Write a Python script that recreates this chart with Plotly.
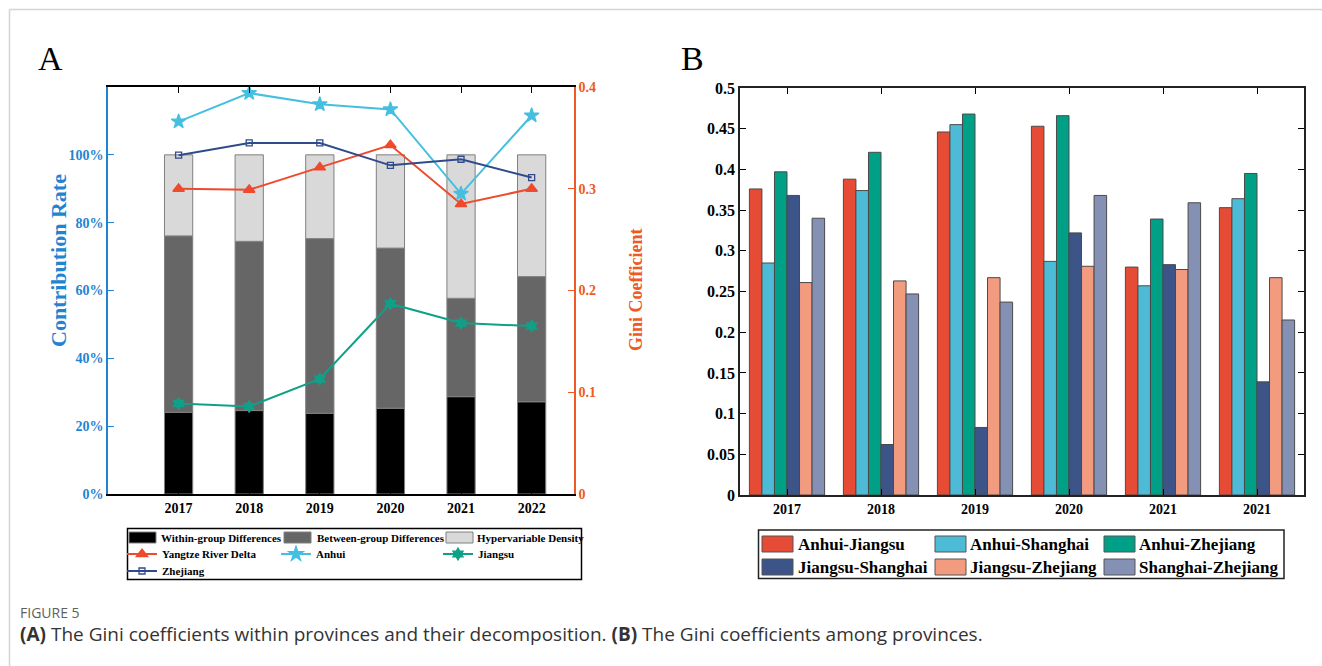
import plotly.graph_objects as go

# ---------------- data ----------------
years = ["2017", "2018", "2019", "2020", "2021", "2022"]

# contribution rates (%) of the Gini decomposition
within_group = [24.1, 24.6, 23.8, 25.3, 28.7, 27.2]
between_group = [52.0, 49.9, 51.5, 47.2, 29.0, 36.9]
hypervariable = [23.9, 25.5, 24.7, 27.5, 42.3, 35.9]
rate_ticks = [0, 20, 40, 60, 80, 100]
rate_labels = ["0%", "20%", "40%", "60%", "80%", "100%"]

# within-province Gini coefficients
gini_yrd = [0.300, 0.299, 0.321, 0.343, 0.285, 0.300]
gini_anhui = [0.366, 0.394, 0.383, 0.378, 0.295, 0.372]
gini_jiangsu = [0.089, 0.086, 0.113, 0.187, 0.168, 0.165]
gini_zhejiang = [0.333, 0.345, 0.345, 0.323, 0.329, 0.311]
gini_ticks = [0, 0.1, 0.2, 0.3, 0.4]
gini_labels = ["0", "0.1", "0.2", "0.3", "0.4"]

# between-province Gini coefficients
pair_years = ["2017", "2018", "2019", "2020", "2021", "2021"]
anhui_jiangsu = [0.376, 0.388, 0.446, 0.453, 0.280, 0.353]
anhui_shanghai = [0.285, 0.374, 0.455, 0.287, 0.257, 0.364]
anhui_zhejiang = [0.397, 0.421, 0.468, 0.466, 0.339, 0.395]
jiangsu_shanghai = [0.368, 0.062, 0.083, 0.322, 0.283, 0.139]
jiangsu_zhejiang = [0.261, 0.263, 0.267, 0.281, 0.277, 0.267]
shanghai_zhejiang = [0.340, 0.247, 0.237, 0.368, 0.359, 0.215]
pair_ticks = [0, 0.05, 0.1, 0.15, 0.2, 0.25, 0.3, 0.35, 0.4, 0.45, 0.5]
pair_labels = ["0", "0.05", "0.1", "0.15", "0.2", "0.25", "0.3", "0.35", "0.4", "0.45", "0.5"]

pair_names = ["Anhui-Jiangsu", "Anhui-Shanghai", "Anhui-Zhejiang",
              "Jiangsu-Shanghai", "Jiangsu-Zhejiang", "Shanghai-Zhejiang"]
pair_values = [anhui_jiangsu, anhui_shanghai, anhui_zhejiang,
               jiangsu_shanghai, jiangsu_zhejiang, shanghai_zhejiang]

# ---------------- styling ----------------
W, H = 1322, 666
SERIF = "Liberation Serif"
BLUE = "#1f84d2"
ORANGE = "#ef5a24"
NPG = ["#E64B35", "#4DBBD5", "#00A087", "#3C5488", "#F39B7F", "#8491B4"]
DECOMP_COLORS = ["#000000", "#666666", "#d9d9d9"]
DECOMP_NAMES = ["Within-group Differences", "Between-group Differences", "Hypervariable Density"]


def px(x):
    return x / W


def py(y):
    return 1 - y / H


fig = go.Figure()

# ---------------- panel A: stacked contribution bars ----------------
xa = list(range(1, len(years) + 1))
base_between = [w for w in within_group]
base_hyper = [w + b for w, b in zip(within_group, between_group)]
for vals, base, col in zip([within_group, between_group, hypervariable],
                           [None, base_between, base_hyper], DECOMP_COLORS):
    fig.add_trace(go.Bar(
        x=xa, y=vals, base=base, width=0.4,
        marker=dict(color=col, line=dict(color="#808080", width=1)),
        xaxis="x", yaxis="y", showlegend=False,
    ))

# Gini lines on the right axis
line_specs = [
    ("Yangtze River Delta", gini_yrd, "#ee4a2e", "triangle-up", 10, "legend"),
    ("Anhui", gini_anhui, "#45bfe0", "star", 11, "legend2"),
    ("Jiangsu", gini_jiangsu, "#10a087", "hexagram", 9, "legend3"),
    ("Zhejiang", gini_zhejiang, "#2f4b8c", "square-open", 6, "legend4"),
]
for name, vals, col, sym, size, leg in line_specs:
    fig.add_trace(go.Scatter(
        x=xa, y=vals, name=name, mode="lines+markers",
        line=dict(color=col, width=2),
        marker=dict(symbol=sym, size=size, color=col, line=dict(color=col, width=1.3)),
        xaxis="x", yaxis="y2", legend=leg,
    ))

# ---------------- panel B: grouped pair bars ----------------
xb = list(range(1, len(pair_years) + 1))
group_w = 0.8
bw = group_w / len(pair_names)
for i, (name, vals) in enumerate(zip(pair_names, pair_values)):
    fig.add_trace(go.Bar(
        x=xb, y=vals, name=name, width=bw, offset=-group_w / 2 + i * bw,
        marker=dict(color=NPG[i], line=dict(color="#4a4a4a", width=1)),
        xaxis="x2", yaxis="y3", showlegend=False,
    ))

axis_font = dict(family=SERIF, size=14, color="black", weight="bold")

fig.update_layout(
    width=W, height=H,
    margin=dict(l=0, r=0, t=0, b=0, autoexpand=False),
    paper_bgcolor="white", plot_bgcolor="white",
    barmode="overlay",
    xaxis=dict(
        domain=[px(108), px(574)], range=[0, 6.6], automargin=False,
        tickvals=xa, ticktext=years, tickfont=axis_font,
        ticks="inside", ticklen=6, tickcolor="black",
        showline=True, linecolor="black", linewidth=1.5, mirror="ticks",
        showgrid=False, zeroline=False, anchor="y",
    ),
    yaxis=dict(
        domain=[py(494), py(87)], range=[0, 120], automargin=False,
        tickvals=rate_ticks, ticktext=rate_labels,
        tickfont=dict(family=SERIF, size=14, color=BLUE, weight="bold"),
        ticks="inside", ticklen=6, tickcolor=BLUE,
        showline=True, linecolor=BLUE, linewidth=1.5,
        showgrid=False, zeroline=False, anchor="x",
    ),
    yaxis2=dict(
        overlaying="y", side="right", range=[0, 0.4], automargin=False,
        tickvals=gini_ticks, ticktext=gini_labels,
        tickfont=dict(family=SERIF, size=14, color=ORANGE, weight="bold"),
        ticks="inside", ticklen=6, tickcolor=ORANGE,
        showline=True, linecolor=ORANGE, linewidth=1.5,
        showgrid=False, zeroline=False, anchor="x",
    ),
    xaxis2=dict(
        domain=[px(740), px(1304)], range=[0.5, 6.5], automargin=False,
        tickvals=xb, ticktext=pair_years, tickfont=axis_font,
        ticks="inside", ticklen=6, tickcolor="black",
        showline=True, linecolor="#222222", linewidth=1.5, mirror="ticks",
        showgrid=False, zeroline=False, anchor="y3",
    ),
    yaxis3=dict(
        domain=[py(495), py(88)], range=[0, 0.5], automargin=False,
        tickvals=pair_ticks, ticktext=pair_labels,
        tickfont=dict(family=SERIF, size=16, color="black", weight="bold"),
        ticks="inside", ticklen=6, tickcolor="black",
        showline=True, linecolor="#222222", linewidth=1.5, mirror="ticks",
        showgrid=False, zeroline=False, anchor="x2",
    ),
)

# one-entry legends for the line series of panel A
leg_font = dict(family=SERIF, size=11, color="black", weight="bold")
leg_pos = {"legend": (122, 554), "legend2": (276, 554), "legend3": (438, 554), "legend4": (122, 571)}
for key, (lx, ly) in leg_pos.items():
    fig.update_layout({key: dict(
        x=px(lx), y=py(ly), xanchor="left", yanchor="middle",
        orientation="h", bgcolor="rgba(0,0,0,0)", borderwidth=0,
        font=leg_font, itemwidth=30, tracegroupgap=0,
    )})

shapes = []
annotations = []

# outer frame
shapes.append(dict(type="line", xref="paper", yref="paper", x0=px(9.5), x1=1, y0=py(9.5), y1=py(9.5),
                   line=dict(color="#d4d4d4", width=1.5)))
shapes.append(dict(type="line", xref="paper", yref="paper", x0=px(9.5), x1=px(9.5), y0=0, y1=py(9.5),
                   line=dict(color="#d4d4d4", width=1.5)))

# legend box of panel A with bar keys
shapes.append(dict(type="rect", xref="paper", yref="paper", x0=px(127.5), x1=px(581.5),
                   y0=py(579.5), y1=py(528.5), line=dict(color="black", width=1.5)))
for (sx, tx), name, col in zip([(129, 159), (284, 315), (446, 475)], DECOMP_NAMES, DECOMP_COLORS):
    shapes.append(dict(type="rect", xref="paper", yref="paper", x0=px(sx), x1=px(sx + 27),
                       y0=py(543), y1=py(532), fillcolor=col, line=dict(color="#808080", width=1)))
    annotations.append(dict(x=px(tx), y=py(538), xref="paper", yref="paper", text=name,
                            showarrow=False, xanchor="left", yanchor="middle", font=leg_font))

# legend box of panel B
shapes.append(dict(type="rect", xref="paper", yref="paper", x0=px(758.5), x1=px(1284),
                   y0=py(578.5), y1=py(530), line=dict(color="#222222", width=1.5)))
legB_font = dict(family=SERIF, size=17, color="black", weight="bold")
colsB = [(762, 796), (935, 968), (1104, 1137)]
rowsB = [544, 567]
for i, name in enumerate(pair_names):
    sx, tx = colsB[i % 3]
    cy = rowsB[i // 3]
    shapes.append(dict(type="rect", xref="paper", yref="paper", x0=px(sx), x1=px(sx + 31),
                       y0=py(cy + 8), y1=py(cy - 8), fillcolor=NPG[i],
                       line=dict(color="#555555", width=1)))
    annotations.append(dict(x=px(tx), y=py(cy), xref="paper", yref="paper", text=name,
                            showarrow=False, xanchor="left", yanchor="middle", font=legB_font))

# axis titles
annotations.append(dict(x=px(58), y=py(261), xref="paper", yref="paper", text="Contribution Rate",
                        textangle=-90, showarrow=False, xanchor="center", yanchor="middle",
                        font=dict(family=SERIF, size=22, color=BLUE, weight="bold")))
annotations.append(dict(x=px(636), y=py(290), xref="paper", yref="paper", text="Gini Coefficient",
                        textangle=-90, showarrow=False, xanchor="center", yanchor="middle",
                        font=dict(family=SERIF, size=18, color=ORANGE, weight="bold")))

# panel letters
annotations.append(dict(x=px(50), y=py(58), xref="paper", yref="paper", text="A", showarrow=False,
                        xanchor="center", yanchor="middle",
                        font=dict(family=SERIF, size=34, color="black")))
annotations.append(dict(x=px(692), y=py(58), xref="paper", yref="paper", text="B", showarrow=False,
                        xanchor="center", yanchor="middle",
                        font=dict(family=SERIF, size=34, color="black")))

# caption
annotations.append(dict(x=px(18), y=py(612), xref="paper", yref="paper", text="FIGURE 5",
                        showarrow=False, xanchor="left", yanchor="middle",
                        font=dict(family="Open Sans", size=14, color="#606060")))
annotations.append(dict(x=px(18), y=py(634), xref="paper", yref="paper",
                        text="<b>(A)</b> The Gini coefficients within provinces and their decomposition. "
                             "<b>(B)</b> The Gini coefficients among provinces.",
                        showarrow=False, xanchor="left", yanchor="middle",
                        font=dict(family="Open Sans", size=19, color="#333333")))

fig.update_layout(shapes=shapes, annotations=annotations)

fig.write_html("out.html")
